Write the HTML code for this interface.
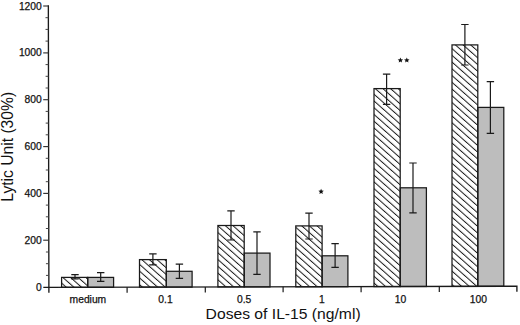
<!DOCTYPE html>
<html><head><meta charset="utf-8"><style>
html,body{margin:0;padding:0;background:#fff;}
body{width:520px;height:325px;overflow:hidden;}
svg{display:block;}
text{font-family:"Liberation Sans",sans-serif;fill:#111;stroke:#111;stroke-width:0.25px;}
</style></head><body>
<svg width="520" height="325" viewBox="0 0 520 325">
<defs>
<pattern id="h" patternUnits="userSpaceOnUse" width="5.05" height="20" patternTransform="rotate(-48.5)">
<rect x="0" y="0" width="1.0" height="20" fill="#1a1a1a"/>
</pattern>
</defs>

<rect x="61.6" y="277.4" width="26.1" height="9.9" fill="#fff"/>
<rect x="61.6" y="277.4" width="26.1" height="9.9" fill="url(#h)"/>
<rect x="87.7" y="277.4" width="25.9" height="9.9" fill="#bdbdbd"/>
<rect x="61.6" y="277.4" width="26.1" height="9.9" fill="none" stroke="#1a1a1a" stroke-width="1.25"/>
<rect x="87.7" y="277.4" width="25.9" height="9.9" fill="none" stroke="#1a1a1a" stroke-width="1.25"/>
<path d="M75.0 274.7V278.8M71.3 274.7H78.7M71.3 278.8H78.7" stroke="#1a1a1a" stroke-width="1.2" fill="none"/>
<path d="M100.7 272.6V281.4M97.0 272.6H104.4M97.0 281.4H104.4" stroke="#1a1a1a" stroke-width="1.2" fill="none"/>
<rect x="139.5" y="259.6" width="26.8" height="27.5" fill="#fff"/>
<rect x="139.5" y="259.6" width="26.8" height="27.5" fill="url(#h)"/>
<rect x="166.3" y="271.3" width="25.8" height="15.8" fill="#bdbdbd"/>
<rect x="139.5" y="259.6" width="26.8" height="27.5" fill="none" stroke="#1a1a1a" stroke-width="1.25"/>
<rect x="166.3" y="271.3" width="25.8" height="15.8" fill="none" stroke="#1a1a1a" stroke-width="1.25"/>
<path d="M152.9 253.8V264.8M149.2 253.8H156.6M149.2 264.8H156.6" stroke="#1a1a1a" stroke-width="1.2" fill="none"/>
<path d="M179.4 264.2V278.4M175.7 264.2H183.1M175.7 278.4H183.1" stroke="#1a1a1a" stroke-width="1.2" fill="none"/>
<rect x="217.9" y="225.5" width="26.3" height="61.4" fill="#fff"/>
<rect x="217.9" y="225.5" width="26.3" height="61.4" fill="url(#h)"/>
<rect x="244.2" y="253.1" width="25.8" height="33.8" fill="#bdbdbd"/>
<rect x="217.9" y="225.5" width="26.3" height="61.4" fill="none" stroke="#1a1a1a" stroke-width="1.25"/>
<rect x="244.2" y="253.1" width="25.8" height="33.8" fill="none" stroke="#1a1a1a" stroke-width="1.25"/>
<path d="M231.0 210.8V240.0M227.3 210.8H234.7M227.3 240.0H234.7" stroke="#1a1a1a" stroke-width="1.2" fill="none"/>
<path d="M257.0 231.9V274.3M253.3 231.9H260.7M253.3 274.3H260.7" stroke="#1a1a1a" stroke-width="1.2" fill="none"/>
<rect x="295.8" y="225.9" width="26.3" height="60.9" fill="#fff"/>
<rect x="295.8" y="225.9" width="26.3" height="60.9" fill="url(#h)"/>
<rect x="322.1" y="255.8" width="25.8" height="30.9" fill="#bdbdbd"/>
<rect x="295.8" y="225.9" width="26.3" height="60.9" fill="none" stroke="#1a1a1a" stroke-width="1.25"/>
<rect x="322.1" y="255.8" width="25.8" height="30.9" fill="none" stroke="#1a1a1a" stroke-width="1.25"/>
<path d="M309.0 213.1V239.0M305.3 213.1H312.7M305.3 239.0H312.7" stroke="#1a1a1a" stroke-width="1.2" fill="none"/>
<path d="M335.1 243.7V267.4M331.4 243.7H338.8M331.4 267.4H338.8" stroke="#1a1a1a" stroke-width="1.2" fill="none"/>
<rect x="374.0" y="88.6" width="26.2" height="198.0" fill="#fff"/>
<rect x="374.0" y="88.6" width="26.2" height="198.0" fill="url(#h)"/>
<rect x="400.2" y="187.8" width="26.2" height="98.7" fill="#bdbdbd"/>
<rect x="374.0" y="88.6" width="26.2" height="198.0" fill="none" stroke="#1a1a1a" stroke-width="1.25"/>
<rect x="400.2" y="187.8" width="26.2" height="98.7" fill="none" stroke="#1a1a1a" stroke-width="1.25"/>
<path d="M386.6 74.2V104.3M382.9 74.2H390.3M382.9 104.3H390.3" stroke="#1a1a1a" stroke-width="1.2" fill="none"/>
<path d="M413.0 163.0V212.9M409.3 163.0H416.7M409.3 212.9H416.7" stroke="#1a1a1a" stroke-width="1.2" fill="none"/>
<rect x="452.0" y="44.9" width="25.8" height="241.5" fill="#fff"/>
<rect x="452.0" y="44.9" width="25.8" height="241.5" fill="url(#h)"/>
<rect x="477.8" y="107.4" width="26.0" height="178.9" fill="#bdbdbd"/>
<rect x="452.0" y="44.9" width="25.8" height="241.5" fill="none" stroke="#1a1a1a" stroke-width="1.25"/>
<rect x="477.8" y="107.4" width="26.0" height="178.9" fill="none" stroke="#1a1a1a" stroke-width="1.25"/>
<path d="M464.9 24.5V65.0M461.2 24.5H468.6M461.2 65.0H468.6" stroke="#1a1a1a" stroke-width="1.2" fill="none"/>
<path d="M490.4 81.6V133.4M486.7 81.6H494.1M486.7 133.4H494.1" stroke="#1a1a1a" stroke-width="1.2" fill="none"/>
<path d="M48.35 5.3L48.9 292.8M43.3 287.40L516.9 286.25V291.75" stroke="#1a1a1a" stroke-width="1.35" fill="none"/>
<text x="41.8" y="290.6" font-size="10.3" text-anchor="end">0</text>
<path d="M45.97 275.4H48.87" stroke="#444" stroke-width="1.0"/>
<path d="M45.94 263.7H48.84" stroke="#444" stroke-width="1.0"/>
<path d="M45.92 252.0H48.82" stroke="#444" stroke-width="1.0"/>
<path d="M43.2 240.2H48.80" stroke="#333" stroke-width="1.15"/>
<text x="41.8" y="243.8" font-size="10.3" text-anchor="end">200</text>
<path d="M45.88 228.5H48.78" stroke="#444" stroke-width="1.0"/>
<path d="M45.85 216.8H48.75" stroke="#444" stroke-width="1.0"/>
<path d="M45.83 205.1H48.73" stroke="#444" stroke-width="1.0"/>
<path d="M43.2 193.4H48.71" stroke="#333" stroke-width="1.15"/>
<text x="41.8" y="196.9" font-size="10.3" text-anchor="end">400</text>
<path d="M45.79 181.7H48.69" stroke="#444" stroke-width="1.0"/>
<path d="M45.77 170.0H48.67" stroke="#444" stroke-width="1.0"/>
<path d="M45.74 158.3H48.64" stroke="#444" stroke-width="1.0"/>
<path d="M43.2 146.6H48.62" stroke="#333" stroke-width="1.15"/>
<text x="41.8" y="150.1" font-size="10.3" text-anchor="end">600</text>
<path d="M45.70 134.8H48.60" stroke="#444" stroke-width="1.0"/>
<path d="M45.68 123.1H48.58" stroke="#444" stroke-width="1.0"/>
<path d="M45.65 111.4H48.55" stroke="#444" stroke-width="1.0"/>
<path d="M43.2 99.7H48.53" stroke="#333" stroke-width="1.15"/>
<text x="41.8" y="103.2" font-size="10.3" text-anchor="end">800</text>
<path d="M45.61 88.0H48.51" stroke="#444" stroke-width="1.0"/>
<path d="M45.59 76.3H48.49" stroke="#444" stroke-width="1.0"/>
<path d="M45.56 64.6H48.46" stroke="#444" stroke-width="1.0"/>
<path d="M43.2 52.9H48.44" stroke="#333" stroke-width="1.15"/>
<text x="41.8" y="56.4" font-size="10.3" text-anchor="end">1000</text>
<path d="M45.52 41.1H48.42" stroke="#444" stroke-width="1.0"/>
<path d="M45.50 29.4H48.40" stroke="#444" stroke-width="1.0"/>
<path d="M45.47 17.7H48.37" stroke="#444" stroke-width="1.0"/>
<path d="M43.2 6.0H48.35" stroke="#333" stroke-width="1.15"/>
<text x="41.8" y="9.5" font-size="10.3" text-anchor="end">1200</text>
<path d="M127.1 287.20V292.70" stroke="#1a1a1a" stroke-width="1.2"/>
<path d="M205.3 287.01V292.51" stroke="#1a1a1a" stroke-width="1.2"/>
<path d="M283.1 286.82V292.32" stroke="#1a1a1a" stroke-width="1.2"/>
<path d="M361.1 286.63V292.13" stroke="#1a1a1a" stroke-width="1.2"/>
<path d="M439.3 286.44V291.94" stroke="#1a1a1a" stroke-width="1.2"/>
<text x="87.9" y="302.6" font-size="10.3" text-anchor="middle">medium</text>
<text x="165.5" y="302.6" font-size="10.3" text-anchor="middle">0.1</text>
<text x="244.1" y="302.6" font-size="10.3" text-anchor="middle">0.5</text>
<text x="321.8" y="302.6" font-size="10.3" text-anchor="middle">1</text>
<text x="400.4" y="302.6" font-size="10.3" text-anchor="middle">10</text>
<text x="478.3" y="302.6" font-size="10.3" text-anchor="middle">100</text>
<polygon points="321.10,188.75 321.86,190.55 323.81,190.72 322.34,192.00 322.78,193.91 321.10,192.90 319.42,193.91 319.86,192.00 318.39,190.72 320.34,190.55" fill="#111"/>
<polygon points="400.40,57.45 401.16,59.25 403.11,59.42 401.64,60.70 402.08,62.61 400.40,61.60 398.72,62.61 399.16,60.70 397.69,59.42 399.64,59.25" fill="#111"/>
<polygon points="406.80,57.45 407.56,59.25 409.51,59.42 408.04,60.70 408.48,62.61 406.80,61.60 405.12,62.61 405.56,60.70 404.09,59.42 406.04,59.25" fill="#111"/>
<text transform="translate(283.1,319.1) scale(1.046,1)" font-size="15" text-anchor="middle" style="stroke-width:0">Doses of IL-15 (ng/ml)</text>
<text transform="translate(13.2,146.8) rotate(-90) scale(0.99,1)" font-size="15.8" text-anchor="middle" style="stroke-width:0">Lytic Unit (30%)</text>
</svg>
</body></html>
